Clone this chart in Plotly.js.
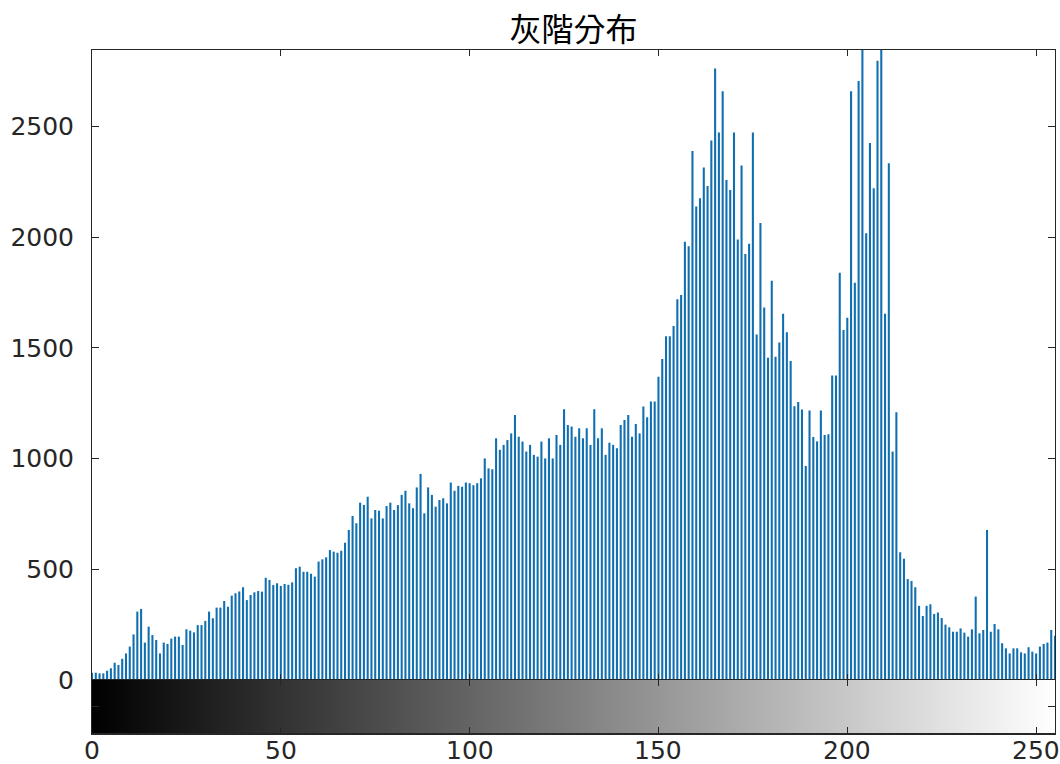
<!DOCTYPE html>
<html>
<head>
<meta charset="utf-8">
<script src="https://cdn.plot.ly/plotly-3.0.1.min.js"></script>
<style>
html,body{margin:0;padding:0;background:#fff;}
#chart{width:1060px;height:764px;}
</style>
</head>
<body>
<div id="chart"></div>
<script>
// Gray levels (categories on the x axis)
const grayLevels = Array.from({length: 256}, (_, i) => i);

// Pixel counts per gray level
const counts = [
  33, 33, 30, 30, 42, 53, 78, 68, 96, 120,
  151, 206, 309, 321, 169, 241, 203, 181, 120, 169,
  163, 187, 196, 196, 158, 229, 223, 215, 248, 248,
  267, 309, 279, 327, 327, 357, 331, 381, 392, 400,
  419, 361, 384, 396, 402, 399, 462, 452, 429, 437,
  425, 434, 430, 441, 505, 512, 489, 489, 480, 467,
  535, 545, 554, 587, 580, 575, 584, 620, 678, 741,
  708, 801, 791, 828, 730, 768, 765, 730, 786, 801,
  768, 790, 836, 855, 798, 776, 870, 931, 753, 870,
  836, 783, 813, 821, 798, 892, 855, 877, 873, 892,
  889, 880, 889, 911, 1001, 956, 952, 1092, 1040, 1062,
  1084, 1114, 1197, 1099, 1077, 1032, 1062, 1017, 1009, 1077,
  1001, 1092, 1001, 1107, 1062, 1223, 1152, 1145, 1099, 1137,
  1092, 1137, 1062, 1223, 1092, 1137, 1017, 1072, 1062, 1047,
  1152, 1175, 1197, 1099, 1157, 1114, 1235, 1187, 1258, 1258,
  1370, 1450, 1553, 1553, 1599, 1720, 1739, 1980, 1960, 2390,
  2139, 2176, 2315, 2232, 2437, 2762, 2473, 2660, 2259, 2213,
  2473, 1990, 2324, 1925, 1971, 2473, 1561, 2065, 1683, 1456,
  1804, 1460, 1525, 1655, 1571, 1441, 1237, 1256, 1222, 967,
  1218, 1098, 1078, 1218, 1107, 1110, 1376, 1376, 1840, 1581,
  1637, 2660, 1795, 2706, 2846, 2018, 2426, 2222, 2798, 2846,
  1655, 2334, 1032, 1209, 577, 548, 456, 447, 419, 335,
  289, 335, 342, 298, 305, 280, 250, 238, 218, 218,
  233, 214, 196, 229, 377, 211, 226, 678, 218, 253,
  229, 166, 143, 120, 143, 143, 125, 120, 148, 128,
  120, 151, 163, 169, 226, 200
];

const xTicks = [0, 50, 100, 150, 200, 250];
const yTicks = [0, 500, 1000, 1500, 2000, 2500];
const titleText = '灰階分布';

const axisColor = '#262626';
const tickFont = {family: 'DejaVu Sans, Liberation Sans, sans-serif', size: 25, color: axisColor};

const traces = [
  {
    type: 'bar',
    x: grayLevels,
    y: counts,
    width: 0.55,
    marker: {color: '#0f6fb0', line: {width: 0}},
    xaxis: 'x',
    yaxis: 'y',
    hoverinfo: 'x+y'
  },
  {
    type: 'heatmap',
    x: grayLevels,
    y: [0],
    z: [grayLevels],
    zmin: 0,
    zmax: 255,
    colorscale: [[0, '#000000'], [1, '#ffffff']],
    showscale: false,
    xaxis: 'x2',
    yaxis: 'y2',
    hoverinfo: 'x'
  }
];

const plotTop = 50, plotBottom = 733, histBottom = 680;
const plotH = plotBottom - plotTop;
const cbFrac = (plotBottom - histBottom) / plotH;

// x tick labels placed as annotations under the gray-level bar, on the x2 scale
const xLabelAnnotations = xTicks.map(v => ({
  x: v,
  xref: 'x2',
  y: -2 / plotH,
  yref: 'paper',
  yanchor: 'top',
  xanchor: 'center',
  text: String(v),
  showarrow: false,
  borderpad: 0,
  font: tickFont
}));

const layout = {
  width: 1060,
  height: 764,
  margin: {l: 92, r: 5, t: plotTop, b: 764 - plotBottom},
  paper_bgcolor: '#ffffff',
  plot_bgcolor: '#ffffff',
  showlegend: false,
  title: {
    text: titleText,
    x: 0.5,
    xref: 'paper',
    y: 1 - 30 / 764,
    yref: 'container',
    yanchor: 'middle',
    font: {family: 'Noto Sans CJK TC, Noto Sans CJK SC, sans-serif', size: 32, color: '#000000'}
  },
  xaxis: {
    domain: [0, 1],
    range: [0, 255],
    anchor: 'y',
    tickvals: xTicks,
    showticklabels: false,
    ticks: 'inside',
    ticklen: 6,
    tickcolor: axisColor,
    showline: true,
    linecolor: axisColor,
    linewidth: 1,
    mirror: 'ticks',
    showgrid: false,
    zeroline: false
  },
  yaxis: {
    domain: [cbFrac, 1],
    range: [0, 2846],
    anchor: 'x',
    tickvals: yTicks,
    ticktext: yTicks.map(String),
    ticks: 'inside',
    ticklen: 7,
    tickcolor: axisColor,
    tickfont: tickFont,
    ticklabelstandoff: 12,
    showline: true,
    linecolor: axisColor,
    linewidth: 1,
    mirror: 'ticks',
    showgrid: false,
    zeroline: false
  },
  xaxis2: {
    domain: [0, 1],
    range: [0, 255],
    anchor: 'y2',
    tickvals: xTicks,
    showticklabels: false,
    ticks: 'inside',
    ticklen: 6,
    tickcolor: axisColor,
    showline: true,
    linecolor: axisColor,
    linewidth: 1.5,
    mirror: 'ticks',
    showgrid: false,
    zeroline: false
  },
  yaxis2: {
    domain: [0, cbFrac],
    range: [-0.5, 0.5],
    anchor: 'x2',
    tickvals: [0],
    showticklabels: false,
    ticks: 'inside',
    ticklen: 7,
    tickcolor: axisColor,
    showline: true,
    linecolor: axisColor,
    linewidth: 1,
    mirror: 'ticks',
    showgrid: false,
    zeroline: false
  },
  annotations: xLabelAnnotations
};

Plotly.newPlot('chart', traces, layout, {staticPlot: true, displayModeBar: false});
</script>
</body>
</html>
